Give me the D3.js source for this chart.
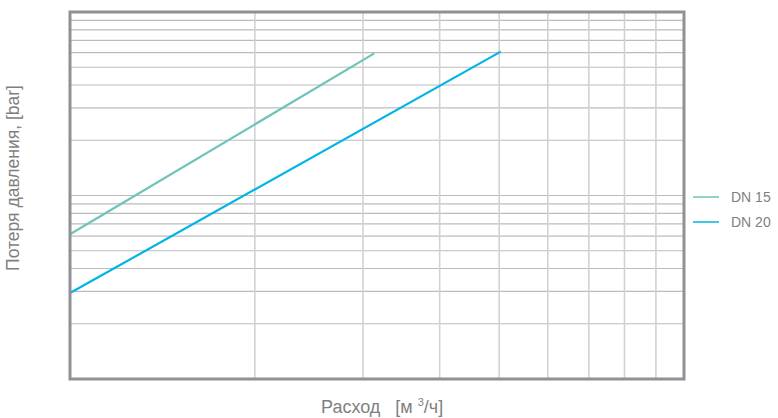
<!DOCTYPE html>
<html>
<head>
<meta charset="utf-8">
<script src="https://cdn.jsdelivr.net/npm/d3@7"></script>
<style>
  body { margin: 0; background: #fff; }
  svg { font-family: "Liberation Sans", Arial, sans-serif; }
</style>
</head>
<body>
<svg id="chart" width="778" height="418"></svg>
<script>
// flow [m3/h] vs pressure loss [bar], log-log
var xDomain = [1, 10]
var yDomain = [1, 100]
var seriesNames = ['DN 15', 'DN 20']
var seriesColors = ['#6fc3b9', '#00b4e6']
var dn15Flow = [1, 3.13]
var dn15Loss = [6.15, 59.5]
var dn20Flow = [1, 5.03]
var dn20Loss = [2.94, 60.8]

var svg = d3.select('#chart')
var pLeft = 70, pRight = 684, pTop = 12, pBottom = 379

var x = d3.scaleLog().domain(xDomain).range([pLeft, pRight])
var y = d3.scaleLog().domain(yDomain).range([pBottom, pTop])

// grid
var xTicks = x.ticks().filter(function(d){ return d > xDomain[0] && d < xDomain[1] })
var yTicks = y.ticks().filter(function(d){ return d > yDomain[0] && d < yDomain[1] })

svg.append('g').selectAll('line').data(yTicks).enter().append('line')
  .attr('x1', pLeft).attr('x2', pRight)
  .attr('y1', function(d){ return y(d) }).attr('y2', function(d){ return y(d) })
  .attr('stroke', '#bcbcbf').attr('stroke-width', 1.2)

svg.append('g').selectAll('line').data(xTicks).enter().append('line')
  .attr('y1', pTop).attr('y2', pBottom)
  .attr('x1', function(d){ return x(d) }).attr('x2', function(d){ return x(d) })
  .attr('stroke', '#d2d2d4').attr('stroke-width', 1.6)

// series
var line = d3.line().x(function(d){ return x(d[0]) }).y(function(d){ return y(d[1]) })
var series = [d3.zip(dn15Flow, dn15Loss), d3.zip(dn20Flow, dn20Loss)]
svg.append('g').selectAll('path').data(series).enter().append('path')
  .attr('d', line).attr('fill', 'none')
  .attr('stroke', function(d, i){ return seriesColors[i] })
  .attr('stroke-width', 2.2)

// frame
svg.append('rect').attr('x', pLeft).attr('y', pTop)
  .attr('width', pRight - pLeft).attr('height', pBottom - pTop)
  .attr('fill', 'none').attr('stroke', '#8e9195').attr('stroke-width', 3)

// legend
var legend = svg.append('g').selectAll('g').data(seriesNames).enter().append('g')
  .attr('transform', function(d, i){ return 'translate(693,' + (197 + i * 25) + ')' })
legend.append('line').attr('x1', 0).attr('x2', 26)
  .attr('stroke', function(d, i){ return seriesColors[i] }).attr('stroke-width', 1.5)
legend.append('text').attr('x', 38).attr('y', 5).attr('fill', '#7f7f80')
  .attr('font-size', '14px').text(function(d){ return d })

// axis labels
var xl = svg.append('text').attr('x', 321).attr('y', 413).attr('fill', '#7f7f80')
  .attr('font-size', '18px').attr('xml:space', 'preserve')
xl.append('tspan').text('Расход   [м ')
xl.append('tspan').attr('font-size', '11px').attr('dy', -7).text('3')
xl.append('tspan').attr('dy', 7).text('/ч]')

svg.append('text').attr('transform', 'translate(19,178) rotate(-90)')
  .attr('text-anchor', 'middle').attr('fill', '#7f7f80').attr('font-size', '17.5px')
  .text('Потеря давления, [bar]')
</script>
</body>
</html>
